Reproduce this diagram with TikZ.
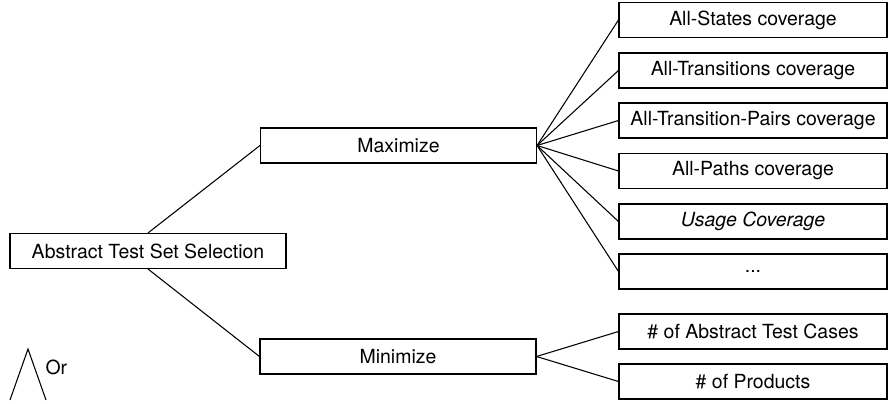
\documentclass[tikz,border=0pt]{standalone}
\usepackage{fontspec}
\setmainfont{TeX Gyre Heros}
\usetikzlibrary{positioning}

\begin{document}
\begin{tikzpicture}[x=0.75pt, y=-0.75pt, line width=0.8pt,
        box/.style={draw, rectangle, inner sep=0pt, minimum width=207pt, minimum height=26.25pt, font=\fontsize{14.6}{17}\selectfont},
        leaf/.style={box, minimum width=201pt}]
        \useasboundingbox (0, 0) rectangle (888, 403);

        \node[box] (root) at (148, 251) {Abstract Test Set Selection};
        \node[box] (max) at (398.5, 145.5) {Maximize};
        \node[box] (min) at (398, 356.5) {Minimize};

        \node[leaf] (a1) at (753, 20) {All-States coverage};
        \node[leaf] (a2) at (753, 70.5) {All-Transitions coverage};
        \node[leaf] (a3) at (753, 120.5) {All-Transition-Pairs coverage};
        \node[leaf] (a4) at (753, 171) {All-Paths coverage};
        \node[leaf] (a5) at (753, 221.5) {\itshape Usage Coverage};
        \node[leaf] (a6) at (753, 271.5) {...};

        \node[leaf] (b1) at (753, 331.5) {\# of Abstract Test Cases};
        \node[leaf] (b2) at (753, 381.5) {\# of Products};

        \draw (root.north) -- (max.west)
            (root.south) -- (min.west);
        \foreach \i in {1, ..., 6}
            \draw (max.east) -- (a\i.west);
        \foreach \i in {1, 2}
            \draw (min.east) -- (b\i.west);

        \coordinate (orl) at (10, 400);
        \coordinate (ort) at (28, 349);
        \coordinate (orr) at (46, 400);
        \draw (orl) -- (ort) -- (orr);
        \node[font=\fontsize{14.6}{17}\selectfont, anchor=west, inner sep=0pt] (or) at (45, 367) {Or};
    \end{tikzpicture}
\end{document}
